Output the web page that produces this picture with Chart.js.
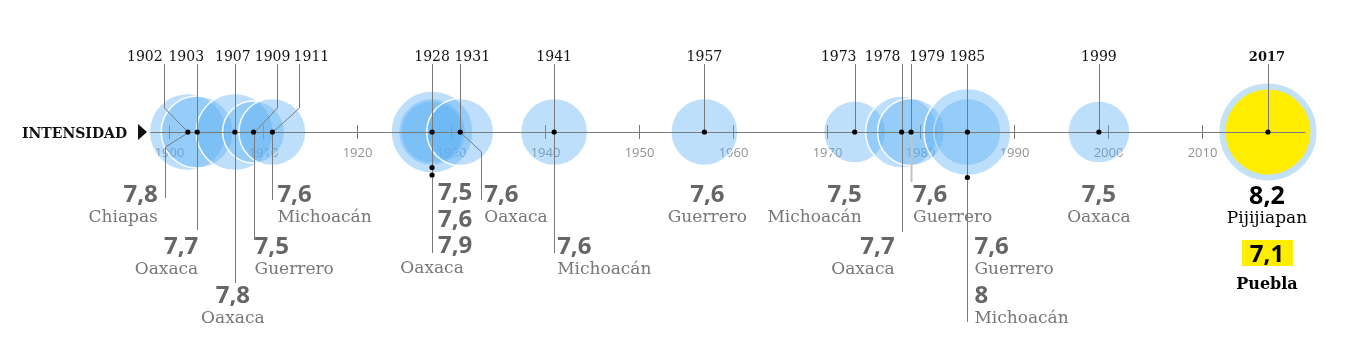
<!DOCTYPE html>
<html lang="es">
<head>
<meta charset="UTF-8">
<title>Sismos en México</title>
<script src="https://cdn.jsdelivr.net/npm/chart.js"></script>
<style>
  html, body { margin: 0; padding: 0; background: #fff; }
  .wrap { position: relative; width: 1360px; height: 351px; }
</style>
</head>
<body>
<div class="wrap"><canvas id="sismos"></canvas></div>
<script>
// one entry per earthquake
const years      = [1902, 1903, 1907, 1909, 1911, 1928, 1928, 1928, 1931, 1941, 1957, 1973, 1978, 1979, 1985, 1985, 1999, 2017, 2017];
const magnitudes = [7.8, 7.7, 7.8, 7.5, 7.6, 7.5, 7.6, 7.9, 7.6, 7.6, 7.6, 7.5, 7.7, 7.6, 7.6, 8.0, 7.5, 8.2, 7.1];
const places     = ['Chiapas', 'Oaxaca', 'Oaxaca', 'Guerrero', 'Michoacán', 'Oaxaca', 'Oaxaca', 'Oaxaca', 'Oaxaca',
                    'Michoacán', 'Guerrero', 'Michoacán', 'Oaxaca', 'Guerrero', 'Guerrero', 'Michoacán', 'Oaxaca',
                    'Pijijiapan', 'Puebla'];
const current = 2017;

const tickYears  = [1900, 1910, 1920, 1930, 1940, 1950, 1960, 1970, 1980, 1990, 2000, 2010, 2020];
const tickLabels = ['1900', '1910', '1920', '1930', '1940', '1950', '1960', '1970', '1980', '1990', '2000', '2010', ''];

// label placement, pixels relative to each year's dot
const layout = {
  1902: { label: -43, top: [-24, 108], low: [-23, 147, 198], text: { dx: -30, align: 'right', base: 202 } },
  1903: { label: -11, low: [0, null, 230], text: { dx: 1, align: 'right', base: 254 } },
  1907: { label: -2, low: [0, null, 283], text: { dx: -2, align: 'center', base: 303 } },
  1909: { label: 19, top: [23, 108], low: [0, null, 240], text: { dx: 1, align: 'left', base: 254 } },
  1911: { label: 39, top: [27, 108], low: [0, null, 200], text: { dx: 5, align: 'left', base: 202 } },
  1928: { label: 0, low: [0, null, 253], text: { dx: 6, align: 'left', base: 200, stack: 26.5, placeDx: 0, placeAlign: 'center' } },
  1931: { label: 12, low: [21, 152, 200], text: { dx: 24, align: 'left', base: 202 } },
  1941: { label: 0, low: [0, null, 253], text: { dx: 3, align: 'left', base: 254 } },
  1957: { label: 0, text: { dx: 3, align: 'center', base: 202 } },
  1973: { label: -16, text: { dx: 7, align: 'right', base: 202 } },
  1978: { label: -19, low: [0, null, 232], text: { dx: -7, align: 'right', base: 254 } },
  1979: { label: 16, low: [0, null, 182, 'light'], text: { dx: 2, align: 'left', base: 202 } },
  1985: { label: 0, low: [0, null, 322], text: { dx: 7, align: 'left', base: 254, gap: 49 } },
  1999: { label: 0, text: { dx: 0, align: 'center', base: 202 } },
  2017: { label: -1, text: { dx: -1, align: 'center', base: 204 } }
};

const SERIF = '"DejaVu Serif"';
const SANS = '"Open Sans"';
const BLUE = 'rgba(90, 175, 245, 0.4)';
const YELLOW = '#ffed00';
const RING = 6;

function radiusFor(m) { return 31 + (m - 7.5) * 25; }
function fmt(m) { return String(m).replace('.', ','); }

const uniqueYears = [...new Set(years)];
const firstOf = {};
years.forEach((y, i) => { if (firstOf[y] === undefined) firstOf[y] = i; });

// bubbles (the second 2017 quake has no bubble of its own)
const bubbleData = [];
years.forEach((y, i) => {
  if (y === current && i !== firstOf[y]) return;
  const r = radiusFor(magnitudes[i]) - (y === current ? RING / 2 : 0);
  bubbleData.push({ x: y, y: 0, r: r, i: i });
});

const timeline = {
  id: 'timeline',
  beforeDatasetsDraw(chart) {
    const ctx = chart.ctx, xs = chart.scales.x, ys = chart.scales.y;
    const y0 = ys.getPixelForValue(0);
    ctx.save();
    ctx.strokeStyle = '#777';
    ctx.lineWidth = 1;
    ctx.fillStyle = '#929292';
    ctx.font = '13px ' + SANS;
    ctx.textAlign = 'center';
    tickYears.forEach((t, k) => {
      const x = Math.round(xs.getPixelForValue(t)) + 0.5;
      ctx.beginPath();
      ctx.moveTo(x, y0 - 7);
      ctx.lineTo(x, y0 + 7);
      ctx.stroke();
      ctx.fillText(tickLabels[k], x, y0 + 25);
    });
    ctx.restore();
  },
  afterDatasetDraw(chart, args) {
    if (args.index !== 0) return;
    const ctx = chart.ctx, xs = chart.scales.x, ys = chart.scales.y;
    const y0 = ys.getPixelForValue(0) + 0.5;
    ctx.save();
    ctx.strokeStyle = '#7a7a7a';
    ctx.lineWidth = 1;
    ctx.beginPath();
    ctx.moveTo(xs.getPixelForValue(1898), y0);
    ctx.lineTo(xs.getPixelForValue(2021), y0);
    ctx.stroke();

    uniqueYears.forEach(yr => {
      const L = layout[yr];
      const x = Math.round(xs.getPixelForValue(yr)) + 0.5;
      // from year label down to the dot
      ctx.strokeStyle = '#7a7a7a';
      ctx.lineWidth = 1;
      ctx.beginPath();
      if (L.top) {
        ctx.moveTo(x + L.top[0], 64);
        ctx.lineTo(x + L.top[0], L.top[1]);
      } else {
        ctx.moveTo(x, 64);
      }
      ctx.lineTo(x, y0);
      ctx.stroke();
      // from the dot down to the magnitude labels
      if (L.low) {
        const [dx, bend, end, style] = L.low;
        if (style === 'light') { ctx.strokeStyle = '#c4c4c4'; ctx.lineWidth = 2; }
        ctx.beginPath();
        ctx.moveTo(x, y0);
        if (bend !== null) ctx.lineTo(x + dx, bend);
        ctx.lineTo(x + dx, end);
        ctx.stroke();
      }
    });
    ctx.restore();
  },
  afterDraw(chart) {
    const ctx = chart.ctx, xs = chart.scales.x, ys = chart.scales.y;
    const y0 = ys.getPixelForValue(0);
    ctx.save();

    // extra dots on the rim of repeated quakes of the same year
    const meta = chart.getDatasetMeta(0);
    ctx.fillStyle = '#000';
    meta.data.forEach((el, k) => {
      const i = bubbleData[k].i;
      if (i === firstOf[years[i]]) return;
      ctx.beginPath();
      ctx.arc(el.x, el.y + el.options.radius + 2, 2.6, 0, Math.PI * 2);
      ctx.fill();
    });

    // axis title
    ctx.fillStyle = '#111';
    ctx.font = 'bold 14px ' + SERIF;
    ctx.textAlign = 'left';
    ctx.fillText('INTENSIDAD', 22, y0 + 6);
    ctx.beginPath();
    ctx.moveTo(138, y0 - 8);
    ctx.lineTo(147, y0);
    ctx.lineTo(138, y0 + 8);
    ctx.closePath();
    ctx.fill();

    uniqueYears.forEach(yr => {
      const L = layout[yr];
      const x = xs.getPixelForValue(yr);
      const idx = years.map((y, i) => y === yr ? i : -1).filter(i => i >= 0);

      // year on top
      ctx.textAlign = 'center';
      ctx.fillStyle = '#111';
      ctx.font = (yr === current ? 'bold 13px ' : '14px ') + SERIF;
      ctx.fillText(String(yr), x + L.label, 61);

      const T = L.text;
      const tx = x + T.dx;
      if (yr === current) {
        ctx.textAlign = 'center';
        ctx.fillStyle = '#000';
        ctx.font = 'bold 25px ' + SANS;
        ctx.fillText(fmt(magnitudes[idx[0]]), tx, T.base);
        ctx.font = '17px ' + SERIF;
        ctx.fillText(places[idx[0]], tx, T.base + 19);
        ctx.fillStyle = YELLOW;
        ctx.fillRect(tx - 25, T.base + 36, 51, 26);
        ctx.fillStyle = '#000';
        ctx.font = 'bold 24px ' + SANS;
        ctx.fillText(fmt(magnitudes[idx[1]]), tx, T.base + 58);
        ctx.font = 'bold 16px ' + SERIF;
        ctx.fillText(places[idx[1]], tx, T.base + 85);
        return;
      }
      if (T.stack) {
        ctx.textAlign = T.align;
        ctx.fillStyle = '#666';
        ctx.font = 'bold 24px ' + SANS;
        idx.forEach((i, k) => ctx.fillText(fmt(magnitudes[i]), tx, T.base + k * T.stack));
        ctx.textAlign = T.placeAlign;
        ctx.fillStyle = '#777';
        ctx.font = '17px ' + SERIF;
        ctx.fillText(places[idx[0]], x + T.placeDx, T.base + (idx.length - 1) * T.stack + 20);
        return;
      }
      idx.forEach((i, k) => {
        const b = T.base + k * (T.gap || 50);
        ctx.textAlign = T.align;
        ctx.fillStyle = '#666';
        ctx.font = 'bold 24px ' + SANS;
        ctx.fillText(fmt(magnitudes[i]), tx, b);
        ctx.fillStyle = '#777';
        ctx.font = '17px ' + SERIF;
        ctx.fillText(places[i], tx, b + 20);
      });
    });
    ctx.restore();
  }
};

new Chart(document.getElementById('sismos'), {
  type: 'bubble',
  data: {
    datasets: [{
      label: 'Sismos',
      data: bubbleData,
      order: 1,
      clip: false,
      backgroundColor: c => (c.raw && c.raw.x === current) ? YELLOW : BLUE,
      borderColor: c => (c.raw && c.raw.x === current) ? '#c3e2f8' : 'rgba(255,255,255,0.95)',
      borderWidth: c => (c.raw && c.raw.x === current) ? RING : 1.5
    }, {
      label: 'Años',
      data: uniqueYears.map(y => ({ x: y, y: 0, r: 2.6 })),
      order: 0,
      clip: false,
      backgroundColor: '#000',
      borderWidth: 0
    }]
  },
  options: {
    responsive: true,
    maintainAspectRatio: false,
    animation: false,
    events: [],
    layout: { autoPadding: false, padding: { left: 0, right: 0, top: 0, bottom: 87 } },
    plugins: {
      legend: { display: false },
      tooltip: { enabled: false }
    },
    scales: {
      x: { type: 'linear', display: false, min: 1882, max: 2026.8 },
      y: { type: 'linear', display: false, min: -1, max: 1 }
    }
  },
  plugins: [timeline]
});
</script>
</body>
</html>
